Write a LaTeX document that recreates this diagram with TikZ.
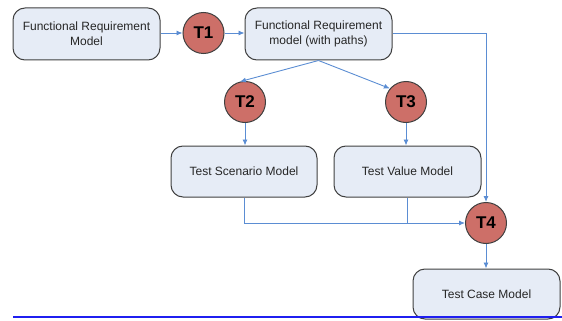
\documentclass[tikz,border=0pt]{standalone}
\usepackage{fontspec}
\setmainfont{Liberation Sans}
\usetikzlibrary{arrows.meta}
\definecolor{boxfill}{HTML}{E6ECF6}
\definecolor{boxdraw}{HTML}{404040}
\definecolor{tfill}{HTML}{CD6F68}
\definecolor{arrcol}{HTML}{5B8DD3}
\definecolor{rulecol}{HTML}{1F1FF0}
\tikzset{
  model/.style={draw=boxdraw, fill=boxfill, line width=1pt, rounded corners=12pt,
    minimum width=147pt, minimum height=52pt, align=center, inner sep=2pt,
    font=\fontsize{12}{15}\selectfont, text=black!85},
  trans/.style={circle, draw=boxdraw, fill=tfill, line width=1pt, minimum size=41pt,
    inner sep=0pt, font=\fontsize{17}{19}\selectfont\bfseries},
  arr/.style={draw=arrcol, line width=0.9pt, -{Latex[length=6pt,width=5pt]}},
  ln/.style={draw=arrcol, line width=0.9pt}
}
\begin{document}
\begin{tikzpicture}[x=1pt,y=-1pt]
\useasboundingbox (0,0) rectangle (562,321);
\node[model] (frm) at (86.5,34) {Functional Requirement\\Model};
\node[trans] (t1) at (203.5,33) {T1};
\node[model] (frmp) at (318.5,34) {Functional Requirement\\model (with paths)};
\node[trans] (t2) at (245,102) {T2};
\node[trans] (t3) at (406,102) {T3};
\node[model, minimum width=146pt, minimum height=51pt] (tsm) at (244,171.5) {Test Scenario Model};
\node[model, minimum height=51pt] (tvm) at (407.5,171.5) {Test Value Model};
\node[trans] (t4) at (486,223) {T4};
\node[model, minimum height=50pt] (tcm) at (486.5,294) {Test Case Model};
\coordinate (rl) at (13,317);
\coordinate (rr) at (562,317);
\draw[draw=rulecol, line width=2pt] (rl) -- (rr);
\draw[arr] (frm.east |- t1.west) -- (t1.west);
\draw[arr] (t1.east) -- (frmp.west |- t1.east);
\draw[arr] (frmp.east |- t1.east) -| (t4.north);
\draw[arr] (frmp.south) -- (t2.104);
\draw[arr] (frmp.south) -- (t3.140);
\draw[arr] (t2.south) -- (tsm.north -| t2.south);
\draw[arr] (t3.south) -- (tvm.north -| t3.south);
\draw[arr] (tsm.south) |- (t4.west);
\draw[ln] (tvm.south) -- (tvm.south |- t4.west);
\draw[arr] (t4.south) -- (tcm.north -| t4.south);
\end{tikzpicture}
\end{document}
